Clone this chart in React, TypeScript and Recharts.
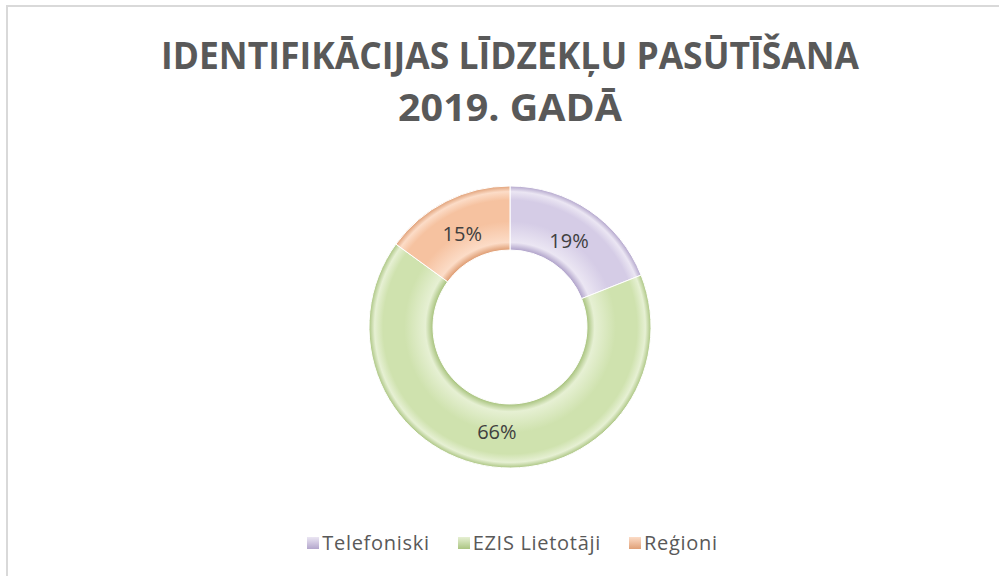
import { PieChart, Pie, Cell, Legend } from 'recharts';

const categories = ['Telefoniski', 'EZIS Lietotāji', 'Reģioni'];
const shares = [19, 66, 15];
const titleLines = ['IDENTIFIKĀCIJAS LĪDZEKĻU PASŪTĪŠANA', '2019. GADĀ'];

const COLORS = [
  { base: '#d5cce6', light: '#ebe6f3', dark: '#b3a6cc' },
  { base: '#cfe2ae', light: '#e6f0d3', dark: '#abc582' },
  { base: '#f6c2a0', light: '#fcdcc7', dark: '#e0a077' },
];

const data = categories.map((name, i) => ({ name, value: shares[i] }));

// recharts adds the 5px default margin to a numeric cx/cy
const CX = 505;
const CY = 322;
const RAD = Math.PI / 180;

const renderLabel = (props: any) => {
  const { cx, cy, midAngle, innerRadius, outerRadius, value } = props;
  const r = (innerRadius + outerRadius) / 2 - 4;
  const x = cx + r * Math.cos(-midAngle * RAD);
  const y = cy + r * Math.sin(-midAngle * RAD);
  return (
    <text
      x={x}
      y={y}
      fill="#404040"
      fontSize={20}
      fontFamily="Open Sans"
      textAnchor="middle"
      dominantBaseline="central"
    >
      {value}%
    </text>
  );
};

const LegendContent = () => (
  <div
    style={{
      display: 'flex',
      justifyContent: 'center',
      gap: 28,
      paddingLeft: 26,
      fontFamily: 'Open Sans',
      fontSize: 20,
      letterSpacing: 0.7,
      color: '#595959',
    }}
  >
    {categories.map((c, i) => (
      <span key={c} style={{ display: 'flex', alignItems: 'center' }}>
        <span
          style={{
            width: 12,
            height: 12,
            marginRight: 3,
            background: `linear-gradient(180deg, ${COLORS[i].light}, ${COLORS[i].dark})`,
          }}
        />
        {c}
      </span>
    ))}
  </div>
);

export default function App() {
  return (
    <div
      style={{
        position: 'absolute',
        left: 0,
        top: 0,
        width: 999,
        height: 576,
        overflow: 'hidden',
        background: '#fff',
      }}
    >
      <div
        style={{
          position: 'absolute',
          left: 6,
          top: 5,
          width: 1020,
          height: 600,
          borderLeft: '2px solid #d9d9d9',
          borderTop: '2px solid #d9d9d9',
        }}
      />
      <PieChart width={999} height={576} style={{ position: 'absolute', left: 0, top: 0 }}>
        <defs>
          {COLORS.map((c, i) => (
            <radialGradient
              key={i}
              id={`slice${i}`}
              gradientUnits="userSpaceOnUse"
              cx={CX + 5}
              cy={CY + 5}
              r={141}
            >
              <stop offset="0.55" stopColor={c.dark} />
              <stop offset="0.6" stopColor={c.light} />
              <stop offset="0.75" stopColor={c.base} />
              <stop offset="0.9" stopColor={c.base} />
              <stop offset="0.96" stopColor={c.light} />
              <stop offset="1" stopColor={c.dark} />
            </radialGradient>
          ))}
        </defs>
        <text
          x={510}
          y={69}
          textAnchor="middle"
          fontFamily="Open Sans"
          fontWeight="bold"
          fontSize={38}
          fill="#595959"
          textLength={698}
          lengthAdjust="spacingAndGlyphs"
        >
          {titleLines[0]}
        </text>
        <text
          x={510}
          y={121}
          textAnchor="middle"
          fontFamily="Open Sans"
          fontWeight="bold"
          fontSize={38}
          fill="#595959"
          textLength={224}
          lengthAdjust="spacingAndGlyphs"
        >
          {titleLines[1]}
        </text>
        <Pie
          data={data}
          dataKey="value"
          nameKey="name"
          cx={CX}
          cy={CY}
          innerRadius={77}
          outerRadius={141}
          startAngle={90}
          endAngle={-270}
          stroke="#ffffff"
          strokeWidth={1}
          label={renderLabel}
          labelLine={false}
          isAnimationActive={false}
        >
          {data.map((_, i) => (
            <Cell key={i} fill={`url(#slice${i})`} />
          ))}
        </Pie>
        <Legend
          content={<LegendContent />}
          verticalAlign="bottom"
          wrapperStyle={{ bottom: 20 }}
        />
      </PieChart>
    </div>
  );
}
